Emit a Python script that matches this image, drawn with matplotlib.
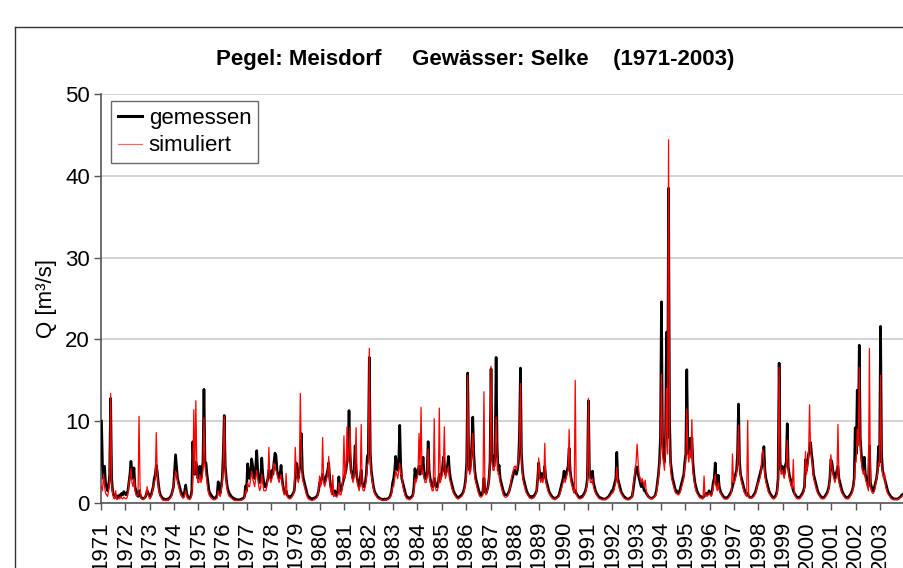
import numpy as np
import matplotlib
matplotlib.use("Agg")
import matplotlib.pyplot as plt
from matplotlib.lines import Line2D

# ---------------- data (semi-monthly values, 24 per year) ----------------
years = list(range(1971, 2004))
year_labels = [str(y) for y in years]
y_ticks = [0, 10, 20, 30, 40, 50]

gemessen = [
    [10.0, 4.6, 3.0, 4.5, 2.5, 2.0, 1.5, 2.0, 3.5, 12.8, 3.0, 1.5, 1.0, 0.8, 0.7, 0.9, 0.6, 0.8, 1.0, 0.8, 1.2, 1.0, 1.4, 1.2],  # 1971
    [1.0, 1.2, 1.5, 2.5, 3.5, 5.1, 4.0, 3.0, 4.3, 2.0, 1.5, 1.0, 0.8, 1.5, 1.0, 0.7, 0.6, 0.5, 0.6, 0.7, 1.0, 1.5, 1.2, 1.0],     # 1972
    [0.8, 1.0, 1.5, 2.0, 3.0, 3.5, 4.6, 3.8, 2.5, 1.5, 1.0, 0.8, 0.6, 0.5, 0.5, 0.4, 0.4, 0.5, 0.5, 0.6, 0.8, 1.0, 1.5, 2.0],     # 1973
    [4.0, 5.9, 4.5, 3.0, 2.5, 2.0, 1.5, 1.2, 1.0, 0.8, 1.5, 2.2, 1.2, 0.8, 0.7, 0.6, 0.8, 1.5, 7.5, 4.0, 3.5, 5.0, 4.5, 3.0],     # 1974
    [3.5, 4.5, 3.0, 4.0, 5.0, 13.9, 5.0, 4.9, 3.5, 2.5, 1.5, 1.2, 1.0, 0.8, 0.7, 0.6, 0.6, 0.7, 1.0, 2.6, 1.5, 1.2, 2.0, 3.0],    # 1975
    [6.0, 10.7, 4.5, 3.0, 2.0, 1.5, 1.2, 1.0, 0.8, 0.7, 0.6, 0.5, 0.5, 0.4, 0.4, 0.4, 0.4, 0.4, 0.5, 0.5, 0.6, 0.8, 2.1, 1.5],    # 1976
    [4.8, 3.5, 3.0, 4.0, 5.4, 4.5, 3.5, 3.0, 4.5, 6.4, 4.0, 3.0, 2.5, 3.0, 5.5, 3.5, 2.5, 2.0, 2.0, 2.5, 3.0, 4.0, 3.5, 3.0],     # 1977
    [4.0, 3.5, 5.0, 6.1, 5.8, 4.0, 3.5, 3.0, 3.5, 4.6, 3.0, 2.0, 1.5, 1.2, 1.5, 1.0, 0.8, 0.8, 0.7, 0.8, 1.0, 1.2, 1.5, 3.0],     # 1978
    [4.9, 3.5, 3.0, 4.0, 5.0, 8.5, 4.0, 3.0, 2.5, 2.0, 1.5, 1.0, 0.8, 0.7, 0.6, 0.5, 0.5, 0.6, 0.6, 0.7, 0.8, 1.0, 1.5, 2.5],     # 1979
    [2.5, 3.0, 3.5, 3.0, 2.5, 3.0, 3.5, 4.0, 4.9, 3.0, 2.0, 1.5, 1.2, 1.0, 1.5, 1.0, 1.0, 1.5, 3.2, 1.5, 1.5, 2.0, 2.5, 3.0],     # 1980
    [3.5, 4.0, 5.0, 6.0, 11.3, 6.0, 4.0, 3.5, 3.0, 4.0, 7.0, 4.0, 3.0, 2.5, 2.0, 3.0, 4.0, 2.5, 2.0, 2.0, 2.5, 3.5, 5.7, 6.0],    # 1981
    [17.8, 6.0, 3.9, 3.0, 2.1, 1.5, 1.2, 1.0, 0.8, 0.7, 0.6, 0.5, 0.5, 0.4, 0.4, 0.5, 0.4, 0.5, 0.5, 0.6, 0.7, 1.0, 1.5, 2.5],    # 1982
    [3.0, 4.0, 5.7, 4.5, 4.0, 5.0, 9.5, 4.5, 3.0, 2.5, 2.0, 1.5, 1.0, 0.8, 0.7, 0.6, 0.6, 0.7, 0.8, 1.0, 2.0, 4.2, 3.0, 3.5],     # 1983
    [4.0, 4.5, 3.5, 4.5, 4.0, 5.6, 3.5, 3.0, 3.0, 4.0, 7.5, 4.0, 3.0, 2.5, 2.0, 2.0, 3.0, 2.5, 2.0, 2.0, 2.5, 3.5, 3.0, 3.5],     # 1984
    [4.0, 5.6, 4.5, 3.5, 4.0, 4.5, 5.7, 4.0, 3.0, 2.5, 2.0, 1.5, 1.2, 1.0, 0.8, 0.7, 0.7, 0.8, 0.9, 1.0, 1.2, 1.5, 2.0, 3.0],     # 1985
    [5.0, 15.9, 5.0, 4.0, 5.0, 7.0, 10.5, 6.0, 4.0, 3.0, 2.5, 2.0, 1.5, 1.2, 1.0, 1.0, 1.5, 3.0, 1.5, 1.2, 1.5, 2.0, 3.0, 5.0],   # 1986
    [16.4, 6.0, 5.0, 4.5, 6.0, 17.8, 7.0, 4.0, 4.6, 3.0, 2.5, 2.0, 1.5, 1.2, 1.0, 1.0, 1.0, 1.2, 1.5, 2.0, 2.5, 3.0, 3.5, 4.0],   # 1987
    [4.0, 3.5, 4.0, 5.0, 8.4, 16.5, 6.0, 4.0, 3.0, 2.5, 2.0, 1.5, 1.2, 1.0, 0.8, 0.8, 0.7, 0.8, 0.8, 1.0, 1.2, 1.5, 3.0, 4.9],    # 1988
    [3.5, 3.0, 3.6, 3.0, 3.5, 4.5, 3.0, 2.5, 2.0, 1.5, 1.2, 1.0, 0.8, 0.7, 0.6, 0.6, 0.6, 0.7, 0.8, 1.0, 1.5, 2.0, 2.5, 3.0],     # 1989
    [3.9, 3.0, 3.5, 4.0, 4.5, 6.7, 4.0, 3.0, 2.5, 2.0, 1.5, 1.5, 1.2, 1.0, 0.8, 0.7, 0.7, 0.8, 0.8, 1.0, 1.2, 1.5, 2.0, 3.0],     # 1990
    [12.5, 4.0, 3.2, 3.0, 3.9, 2.5, 2.0, 1.5, 1.2, 1.0, 0.8, 0.7, 0.6, 0.6, 0.5, 0.5, 0.5, 0.5, 0.6, 0.7, 0.8, 1.0, 1.2, 1.5],    # 1991
    [1.5, 2.0, 2.5, 3.0, 6.2, 3.0, 2.5, 2.0, 1.5, 1.2, 1.0, 0.8, 0.7, 0.6, 0.5, 0.5, 0.5, 0.6, 0.7, 0.8, 1.5, 2.5, 3.5, 4.4],     # 1992
    [4.4, 3.5, 3.0, 2.5, 2.0, 2.5, 2.0, 1.5, 1.5, 1.2, 1.0, 0.8, 0.7, 0.6, 0.6, 0.6, 0.7, 0.8, 1.0, 1.5, 2.5, 3.5, 5.0, 8.0],     # 1993
    [24.6, 8.0, 6.0, 5.0, 8.0, 20.9, 8.0, 38.5, 10.0, 5.0, 4.0, 3.0, 2.5, 2.0, 1.5, 1.5, 1.2, 1.2, 1.5, 2.0, 2.5, 3.0, 3.5, 5.0],  # 1994
    [6.0, 16.3, 7.0, 6.0, 7.9, 6.5, 8.0, 5.0, 3.5, 2.5, 2.0, 1.5, 1.2, 1.0, 0.8, 0.8, 0.7, 0.7, 0.8, 1.0, 1.2, 1.0, 1.2, 1.5],    # 1995
    [1.2, 1.0, 1.5, 2.5, 3.0, 4.9, 2.5, 2.0, 3.4, 2.0, 1.5, 1.2, 1.0, 0.8, 0.7, 0.6, 0.6, 0.7, 0.8, 1.0, 1.2, 1.5, 2.0, 2.5],     # 1996
    [3.0, 3.5, 4.0, 6.0, 12.1, 5.0, 3.5, 3.0, 2.5, 2.0, 1.5, 1.2, 1.0, 1.2, 0.8, 0.7, 0.7, 0.7, 0.8, 1.0, 1.2, 1.5, 2.0, 2.5],    # 1997
    [3.0, 3.5, 4.0, 4.5, 5.0, 6.9, 4.0, 3.0, 2.5, 2.0, 1.5, 1.2, 1.0, 0.8, 0.7, 0.7, 0.8, 1.0, 1.5, 3.0, 17.1, 5.0, 4.0, 4.5],    # 1998
    [4.0, 3.5, 4.5, 5.0, 9.7, 4.5, 3.5, 3.0, 2.5, 2.0, 1.5, 1.2, 1.0, 0.8, 0.7, 0.7, 0.7, 0.8, 1.0, 1.2, 1.5, 2.0, 5.3, 4.0],     # 1999
    [5.0, 6.0, 6.5, 7.4, 6.0, 5.0, 3.5, 3.0, 2.5, 2.0, 1.5, 1.2, 1.0, 0.8, 0.7, 0.7, 0.7, 0.8, 1.0, 1.2, 1.5, 2.0, 3.0, 5.3],     # 2000
    [5.0, 4.0, 3.5, 3.0, 3.5, 4.0, 4.5, 3.0, 2.5, 2.0, 1.5, 1.2, 1.0, 0.8, 0.7, 0.7, 0.7, 0.8, 1.0, 1.2, 1.5, 2.0, 3.0, 9.2],     # 2001
    [6.0, 13.8, 8.0, 19.3, 8.0, 6.0, 5.0, 4.0, 5.6, 3.5, 3.0, 2.5, 2.0, 7.0, 2.5, 2.0, 1.5, 1.5, 2.0, 2.5, 3.0, 4.0, 6.9, 5.0],   # 2002
    [21.6, 6.0, 4.0, 3.5, 3.0, 2.5, 2.0, 1.5, 1.2, 1.0, 0.8, 0.7, 0.6, 0.5, 0.5, 0.5, 0.5, 0.5, 0.6, 0.7, 0.8, 1.0, 1.0, 1.2],    # 2003
]

simuliert = [
    [2.0, 1.5, 3.5, 2.0, 1.2, 1.0, 0.8, 1.5, 2.5, 13.4, 2.5, 1.0, 0.6, 0.5, 1.5, 0.4, 0.5, 0.6, 0.5, 0.8, 0.6, 0.5, 0.7, 0.6],    # 1971
    [0.5, 0.6, 1.0, 2.5, 3.0, 4.2, 2.5, 2.0, 3.0, 1.5, 1.0, 0.8, 1.0, 10.6, 2.0, 0.6, 0.5, 0.4, 0.5, 0.8, 1.0, 2.0, 1.0, 0.6],    # 1972
    [0.5, 0.8, 1.2, 2.0, 2.5, 3.0, 8.6, 3.5, 2.0, 1.2, 0.8, 0.6, 0.4, 0.3, 0.4, 0.3, 0.3, 0.4, 0.3, 0.5, 0.6, 0.8, 1.5, 2.0],     # 1973
    [3.0, 3.9, 3.5, 2.5, 2.0, 1.5, 1.0, 0.8, 0.6, 0.6, 1.0, 1.5, 0.8, 0.5, 0.5, 0.4, 0.6, 1.0, 3.0, 11.4, 3.5, 12.5, 4.0, 2.5],   # 1974
    [2.5, 3.5, 2.5, 3.0, 4.0, 10.4, 4.5, 3.5, 2.5, 1.5, 1.0, 0.8, 0.6, 0.5, 0.4, 0.4, 0.4, 0.5, 0.6, 1.5, 1.0, 0.8, 1.5, 2.5],    # 1975
    [5.0, 10.6, 4.0, 2.5, 1.5, 1.0, 0.8, 0.7, 0.6, 0.5, 0.4, 0.3, 0.3, 0.3, 0.3, 0.3, 0.3, 0.3, 0.4, 0.4, 0.5, 0.6, 1.5, 1.2],    # 1976
    [2.5, 2.0, 2.0, 3.0, 3.9, 3.0, 2.5, 2.0, 3.0, 4.0, 3.0, 2.0, 1.5, 2.0, 3.5, 2.5, 1.5, 1.5, 1.5, 2.0, 3.0, 6.8, 3.0, 2.5],     # 1977
    [3.0, 3.5, 4.9, 4.5, 4.0, 3.5, 3.0, 2.5, 3.0, 3.5, 2.5, 1.5, 1.0, 1.0, 3.6, 0.8, 0.6, 0.5, 0.5, 0.6, 0.8, 1.0, 1.5, 6.8],     # 1978
    [3.5, 3.0, 2.5, 3.5, 13.4, 6.0, 3.0, 2.5, 2.0, 1.5, 1.0, 0.7, 0.5, 0.4, 0.4, 0.3, 0.3, 0.4, 0.4, 0.5, 0.6, 0.8, 1.5, 3.3],    # 1979
    [2.0, 2.5, 8.0, 2.5, 2.0, 2.5, 3.0, 3.5, 5.7, 2.5, 1.5, 1.0, 3.4, 0.8, 1.0, 0.8, 0.7, 1.0, 2.5, 1.0, 1.0, 1.5, 3.0, 8.2],     # 1980
    [3.0, 4.0, 9.3, 5.0, 6.0, 9.2, 4.0, 3.0, 2.5, 3.5, 5.0, 9.2, 2.5, 2.0, 1.5, 2.5, 9.6, 2.0, 1.5, 1.5, 2.0, 3.0, 4.5, 5.0],     # 1981
    [18.9, 5.0, 3.5, 2.5, 1.8, 1.2, 1.0, 0.8, 0.6, 0.5, 0.5, 0.4, 0.4, 0.3, 0.3, 0.4, 0.3, 0.4, 0.4, 0.5, 0.6, 0.8, 1.2, 2.0],    # 1982
    [2.0, 3.0, 4.0, 3.5, 3.0, 4.0, 4.9, 3.5, 3.6, 2.0, 1.5, 1.0, 0.7, 0.5, 0.5, 0.4, 0.4, 0.5, 0.6, 0.8, 1.5, 3.0, 2.5, 3.0],     # 1983
    [3.5, 8.5, 4.0, 11.7, 3.5, 4.0, 3.0, 2.5, 2.5, 3.5, 6.6, 3.5, 2.5, 2.0, 1.5, 1.5, 10.3, 2.0, 1.5, 1.5, 2.0, 11.6, 2.5, 3.0],  # 1984
    [3.5, 4.5, 9.3, 3.0, 3.5, 4.0, 4.5, 3.0, 2.5, 2.0, 1.5, 1.2, 1.0, 0.8, 0.6, 0.5, 0.5, 0.6, 0.7, 0.8, 1.0, 1.2, 1.8, 2.5],     # 1985
    [4.0, 15.6, 4.5, 3.5, 4.0, 6.0, 8.5, 5.0, 3.0, 2.5, 2.0, 1.5, 1.0, 0.8, 0.7, 0.8, 1.0, 13.6, 1.5, 1.0, 1.2, 2.0, 3.0, 4.5],   # 1986
    [16.7, 5.0, 4.0, 4.0, 5.5, 10.5, 6.0, 3.5, 3.5, 2.5, 2.0, 1.5, 1.0, 0.8, 0.7, 0.7, 0.8, 1.0, 1.5, 2.0, 3.0, 3.5, 4.0, 4.5],   # 1987
    [4.5, 4.0, 4.5, 5.5, 7.0, 14.6, 5.5, 3.5, 2.5, 2.0, 1.5, 1.2, 1.0, 0.8, 0.6, 0.6, 0.5, 0.6, 0.6, 0.8, 1.0, 1.5, 3.0, 5.5],    # 1988
    [3.0, 2.5, 3.0, 2.5, 3.0, 7.3, 2.5, 2.0, 1.5, 1.2, 1.0, 0.8, 0.6, 0.5, 0.5, 0.4, 0.5, 0.6, 0.7, 0.8, 1.2, 1.5, 2.0, 2.5],     # 1989
    [3.0, 2.5, 3.0, 3.5, 4.0, 9.0, 3.5, 2.5, 2.0, 1.5, 1.2, 15.0, 1.0, 0.8, 0.6, 0.5, 0.5, 0.6, 0.6, 0.8, 1.0, 1.2, 1.8, 2.5],    # 1990
    [12.8, 3.5, 2.5, 2.5, 3.0, 2.0, 1.5, 1.2, 1.0, 0.8, 0.6, 0.5, 0.5, 0.4, 0.4, 0.4, 0.4, 0.4, 0.5, 0.6, 0.7, 0.8, 1.0, 1.2],    # 1991
    [1.2, 1.5, 2.0, 2.5, 4.4, 2.5, 2.0, 1.5, 1.2, 1.0, 0.8, 0.6, 0.5, 0.5, 0.4, 0.4, 0.4, 0.5, 0.6, 0.8, 2.0, 3.0, 4.0, 5.0],     # 1992
    [7.2, 5.0, 3.5, 3.0, 2.5, 3.0, 2.5, 2.0, 2.8, 1.5, 1.0, 0.8, 0.6, 0.5, 0.5, 0.5, 0.6, 0.7, 0.8, 1.2, 2.0, 3.0, 4.5, 6.0],     # 1993
    [15.7, 6.0, 5.0, 4.0, 7.0, 14.0, 6.0, 44.4, 8.0, 4.0, 3.0, 2.5, 2.0, 1.5, 1.2, 1.2, 1.0, 1.0, 1.2, 1.5, 2.0, 2.5, 3.0, 4.5],  # 1994
    [5.0, 11.5, 6.0, 5.0, 6.5, 5.5, 10.2, 4.0, 3.0, 2.0, 1.5, 1.2, 1.0, 0.8, 0.6, 0.6, 0.5, 0.5, 3.3, 0.8, 1.0, 0.8, 1.0, 1.2],   # 1995
    [1.0, 0.8, 1.2, 2.0, 2.5, 3.5, 2.0, 1.5, 2.5, 1.5, 1.2, 1.0, 0.8, 0.6, 0.5, 0.5, 0.5, 0.5, 0.6, 0.8, 1.0, 1.2, 6.0, 2.5],     # 1996
    [2.5, 3.0, 3.5, 5.0, 9.5, 4.5, 3.0, 2.5, 2.0, 1.5, 1.2, 1.0, 0.8, 10.1, 0.7, 0.6, 0.6, 0.6, 0.7, 0.8, 1.0, 1.2, 1.8, 2.5],    # 1997
    [2.5, 3.0, 3.5, 6.0, 6.5, 5.0, 3.5, 2.5, 2.0, 1.5, 1.2, 1.0, 0.8, 0.6, 0.5, 0.5, 0.6, 0.8, 1.2, 2.5, 16.6, 4.5, 3.5, 4.0],    # 1998
    [3.5, 3.0, 4.0, 4.5, 7.7, 4.0, 3.0, 2.5, 2.0, 1.8, 5.3, 1.0, 0.8, 0.6, 0.5, 0.5, 0.5, 0.6, 0.8, 1.0, 1.2, 1.8, 6.3, 3.5],     # 1999
    [4.5, 5.5, 12.0, 6.5, 5.5, 4.5, 3.0, 2.5, 2.0, 1.5, 1.2, 1.0, 0.8, 0.6, 0.5, 0.5, 0.5, 0.6, 0.8, 1.0, 1.2, 1.8, 2.8, 5.9],    # 2000
    [4.5, 3.5, 3.0, 2.5, 3.0, 3.5, 9.6, 2.5, 2.0, 1.5, 1.2, 1.0, 0.8, 0.6, 0.5, 0.5, 0.5, 0.6, 0.8, 1.0, 1.2, 1.8, 2.5, 5.0],     # 2001
    [5.0, 9.0, 7.0, 16.6, 7.0, 5.0, 4.0, 3.5, 4.0, 3.0, 2.5, 2.0, 1.5, 18.9, 2.0, 1.5, 1.2, 1.2, 1.5, 2.0, 3.0, 3.5, 5.0, 4.5],   # 2002
    [15.6, 5.0, 3.5, 3.0, 3.6, 2.0, 1.5, 1.2, 1.0, 0.8, 0.6, 0.5, 0.4, 0.4, 0.4, 0.4, 0.4, 0.4, 0.5, 0.6, 0.7, 0.8, 0.9, 1.0],    # 2003
]

title_text = "Pegel: Meisdorf     Gew\u00e4sser: Selke    (1971-2003)"

# ---------------- build time axis ----------------
per_year = len(gemessen[0])
t = np.array([y + (k + 0.5) / per_year for y in years for k in range(per_year)])
q_gem = np.concatenate([np.asarray(r, float) for r in gemessen])
q_sim = np.concatenate([np.asarray(r, float) for r in simuliert])

# ---------------- figure ----------------
plt.rcParams['font.family'] = ['Liberation Sans', 'DejaVu Sans']
W, H = 904, 568
FS = 16
fig = plt.figure(figsize=(W / 100, H / 100), dpi=100)

# outer frame (chart area border)
fig.add_artist(Line2D([15 / W, 1.0], [1 - 27 / H, 1 - 27 / H], color='#333333', lw=1.0))
fig.add_artist(Line2D([15 / W, 15 / W], [0, 1 - 27 / H], color='#333333', lw=1.0))

ax = fig.add_axes([101 / W, 1 - 503 / H, (904.4 - 101) / W, (503 - 94) / H])
ax.plot(t, q_gem, color='black', lw=1.9, label='gemessen', zorder=3)
ax.plot(t, q_sim, color='red', lw=0.9, label='simuliert', zorder=4)

ax.set_xlim(1971, 2004)
ax.set_ylim(0, 50)
ax.set_yticks(y_ticks)
ax.set_yticklabels([str(v) for v in y_ticks], fontsize=FS)
ax.set_xticks(years)
ax.set_xticklabels(year_labels, rotation=90, fontsize=FS, ha='center', va='top')
ax.tick_params(axis='both', direction='out', length=5, width=1, color='#555555')
ax.tick_params(axis='x', pad=8)
ax.tick_params(axis='y', pad=3)
ax.grid(axis='y', color='#cccccc', lw=1.2)
ax.set_axisbelow(True)
for s in ['top', 'right']:
    ax.spines[s].set_visible(False)
for s in ['left', 'bottom']:
    ax.spines[s].set_color('#555555')
    ax.spines[s].set_linewidth(1.2)
ax.set_ylabel('Q [m\u00b3/s]', fontsize=FS, labelpad=6)

leg = ax.legend(loc='upper left', bbox_to_anchor=(10 / 803, 1 - 7 / 409), fontsize=FS,
                frameon=True, fancybox=False, handlelength=1.1, handletextpad=0.3,
                borderpad=0.3, labelspacing=0.3, borderaxespad=0)
leg.get_frame().set_edgecolor('#444444')
leg.get_frame().set_linewidth(1.0)
leg.get_lines()[0].set_linewidth(2.2)
leg.get_lines()[1].set_color('#ff6060')

fig.text(475 / W, 1 - 60 / H, title_text, ha='center', va='center',
         fontsize=FS, fontweight='bold')

fig.savefig('out.png', dpi=100)
